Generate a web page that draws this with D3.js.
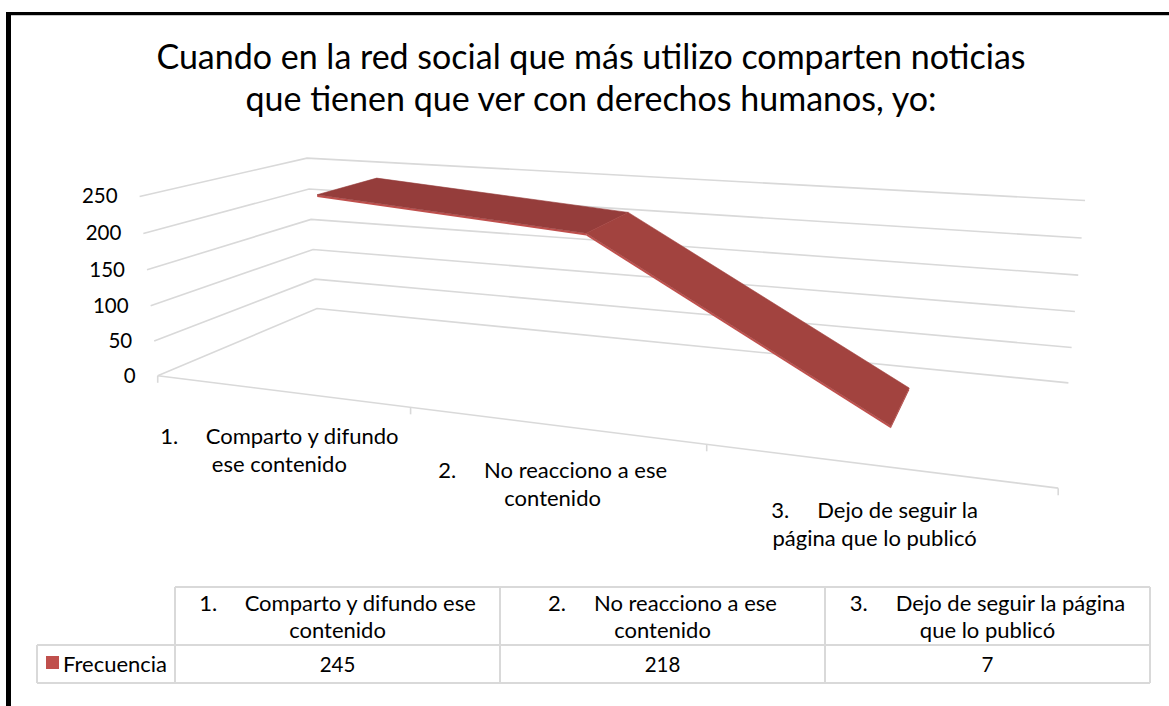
<!DOCTYPE html>
<html><head><meta charset="utf-8">
<script src="https://cdnjs.cloudflare.com/ajax/libs/d3/7.8.5/d3.min.js"></script>
<style>
body { margin: 0; background: #fff; }
svg { display: block; }
text { font-family: Lato, "Open Sans", sans-serif; fill: #000; }
</style>
</head><body><div id="main"></div>
<script>
// data
var titleLines = ["Cuando en la red social que más utilizo comparten noticias", "que tienen que ver con derechos humanos, yo:"];
var categories = ["Comparto y difundo ese contenido", "No reacciono a ese contenido", "Dejo de seguir la página que lo publicó"];
var catNumbers = ["1.", "2.", "3."];
var axisLabels = [["Comparto y difundo", "ese contenido"], ["No reacciono a ese", "contenido"], ["Dejo de seguir la", "página que lo publicó"]];
var tableHeads = [["Comparto y difundo ese", "contenido"], ["No reacciono a ese", "contenido"], ["Dejo de seguir la página", "que lo publicó"]];
var seriesName = "Frecuencia";
var values = [245, 218, 7];
var valueTicks = [0, 50, 100, 150, 200, 250];

var ctx = {
    w: 1169,
    h: 706,
    // perspective camera of the 3D box (x, value, depth all in 0..1)
    cam: [668.6877, -23.1954, 223.0839, 157.7187, 5.4430, -186.4472, -5.1493, 375.7780, -0.2190357, -0.0364558, 0.2013423],
    zFront: 0.3,
    zBack: 0.7,
    grid: "#d9d9d9",
};

var project = function (X, Y, Z) {
    var c = ctx.cam;
    var w = c[8] * X + c[9] * Y + c[10] * Z + 1;
    return [(c[0] * X + c[1] * Y + c[2] * Z + c[3]) / w, (c[4] * X + c[5] * Y + c[6] * Z + c[7]) / w];
};

var svg = d3.select("#main").append("svg").attr("width", ctx.w).attr("height", ctx.h);

var x = d3.scaleBand().domain(categories).range([0, 1]).paddingInner(0).paddingOuter(0);
var y = d3.scaleLinear().domain([0, 250]).range([0, 1]);
var xc = function (c) { return x(c) + x.bandwidth() / 2; };

// frame
svg.append("line").attr("x1", 6).attr("x2", ctx.w).attr("y1", 13.5).attr("y2", 13.5)
    .attr("stroke", "#000").attr("stroke-width", 3);
svg.append("line").attr("x1", 11).attr("x2", ctx.w).attr("y1", 15.5).attr("y2", 15.5)
    .attr("stroke", "#c8c8c8").attr("stroke-width", 1);
svg.append("line").attr("x1", 8.5).attr("x2", 8.5).attr("y1", 12).attr("y2", ctx.h)
    .attr("stroke", "#000").attr("stroke-width", 5);

// title
svg.append("g").selectAll("text").data(titleLines).enter().append("text")
    .attr("x", 591).attr("y", function (d, i) { return 69 + i * 42; })
    .attr("text-anchor", "middle").style("font-size", "34px").text(function (d) { return d; });

// gridlines on side and back walls
var grid = svg.append("g").attr("fill", "none").attr("stroke", ctx.grid).attr("stroke-width", 1.6);
grid.selectAll("path.g").data(valueTicks).enter().append("path")
    .attr("d", function (t) {
        return "M" + project(0, y(t), 0) + "L" + project(0, y(t), 1) + "L" + project(1, y(t), 1);
    });
// category axis + ticks
grid.append("path").attr("d", "M" + project(0, 0, 0) + "L" + project(1, 0, 0));
var edges = [0].concat(categories.map(function (c) { return x(c) + x.bandwidth(); }));
grid.selectAll("path.t").data(edges).enter().append("path")
    .attr("d", function (e) { var p = project(e, 0, 0); return "M" + p + "l0,7"; });

// value labels
svg.append("g").selectAll("text").data(valueTicks).enter().append("text")
    .attr("x", function (t) { return project(0, y(t), 0)[0] - 22; })
    .attr("y", function (t) { return project(0, y(t), 0)[1] + 7; })
    .attr("text-anchor", "end").style("font-size", "20.5px").text(function (t) { return t; });

// category labels
var catG = svg.append("g").selectAll("g").data(categories).enter().append("g")
    .attr("transform", function (c) { var p = project(xc(c), 0, 0); return "translate(" + p[0] + "," + (p[1] + 53) + ")"; });
var l1 = catG.append("text").attr("text-anchor", "middle").style("font-size", "22px");
l1.append("tspan").text(function (c, i) { return catNumbers[i]; });
l1.append("tspan").attr("dx", 28).text(function (c, i) { return axisLabels[i][0]; });
catG.append("text").attr("text-anchor", "middle").attr("y", 28).style("font-size", "22px")
    .text(function (c, i) { return axisLabels[i][1]; });

// ribbon (3D line)
var pts = categories.map(function (c, i) { return { X: xc(c), Y: y(values[i]) }; });
var thick = y(3);
var segFill = ["#953d3b", "#a2433f"];
var rib = svg.append("g");
for (var i = 0; i < pts.length - 1; i++) {
    var a = pts[i], b = pts[i + 1];
    rib.append("path").attr("fill", "#c0504d")
        .attr("d", "M" + project(a.X, a.Y, ctx.zFront) + "L" + project(b.X, b.Y, ctx.zFront) +
            "L" + project(b.X, b.Y - thick, ctx.zFront) + "L" + project(a.X, a.Y - thick, ctx.zFront) + "Z");
    rib.append("path").attr("fill", segFill[i % 2]).attr("stroke", segFill[i % 2]).attr("stroke-width", 0.6)
        .attr("d", "M" + project(a.X, a.Y, ctx.zFront) + "L" + project(b.X, b.Y, ctx.zFront) +
            "L" + project(b.X, b.Y, ctx.zBack) + "L" + project(a.X, a.Y, ctx.zBack) + "Z");
}
var last = pts[pts.length - 1];
rib.append("path").attr("fill", "#b24a47")
    .attr("d", "M" + project(last.X, last.Y, ctx.zFront) + "L" + project(last.X, last.Y, ctx.zBack) +
        "L" + project(last.X, last.Y - thick, ctx.zBack) + "L" + project(last.X, last.Y - thick, ctx.zFront) + "Z");

// data table
var tb = { x0: 37, lab: 138, col: 325, top: 587, mid: 645, bot: 683 };
var colX = function (i) { return tb.x0 + tb.lab + i * tb.col; };
var table = svg.append("g").attr("stroke", ctx.grid).attr("stroke-width", 2);
table.append("line").attr("x1", colX(0)).attr("x2", colX(3)).attr("y1", tb.top).attr("y2", tb.top);
table.selectAll("line.h").data([tb.mid, tb.bot]).enter().append("line")
    .attr("x1", tb.x0).attr("x2", colX(3)).attr("y1", function (d) { return d; }).attr("y2", function (d) { return d; });
table.append("line").attr("x1", tb.x0).attr("x2", tb.x0).attr("y1", tb.mid).attr("y2", tb.bot);
table.selectAll("line.v").data([0, 1, 2, 3]).enter().append("line")
    .attr("x1", colX).attr("x2", colX).attr("y1", tb.top).attr("y2", tb.bot);

var head = svg.append("g").selectAll("g").data(categories).enter().append("g")
    .attr("transform", function (c, i) { return "translate(" + (colX(i) + tb.col / 2) + "," + tb.top + ")"; });
var h1 = head.append("text").attr("text-anchor", "middle").attr("y", 24).style("font-size", "22px");
h1.append("tspan").text(function (c, i) { return catNumbers[i]; });
h1.append("tspan").attr("dx", 28).text(function (c, i) { return tableHeads[i][0]; });
head.append("text").attr("text-anchor", "middle").attr("y", 51).style("font-size", "22px")
    .text(function (c, i) { return tableHeads[i][1]; });

svg.append("g").selectAll("text").data(values).enter().append("text")
    .attr("x", function (d, i) { return colX(i) + tb.col / 2; }).attr("y", tb.mid + 27)
    .attr("text-anchor", "middle").style("font-size", "20.5px").text(function (d) { return d; });

svg.append("rect").attr("x", 46).attr("y", 656).attr("width", 13).attr("height", 13).attr("fill", "#c0504d");
svg.append("text").attr("x", 63).attr("y", tb.mid + 27).style("font-size", "22px").text(seriesName);
</script></body></html>
